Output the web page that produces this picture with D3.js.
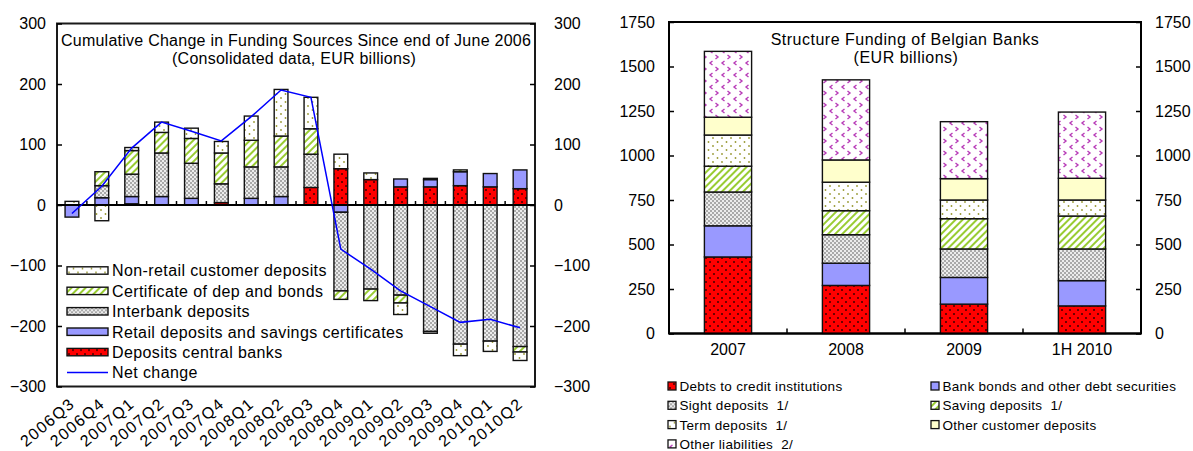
<!DOCTYPE html>
<html>
<head>
<meta charset="utf-8">
<script src="https://cdn.jsdelivr.net/npm/d3@7/dist/d3.min.js"></script>
<style>
  html, body { margin: 0; padding: 0; background: #fff; }
  svg { display: block; font-family: "Liberation Sans", Arial, sans-serif; }
</style>
</head>
<body>
<svg id="chart" width="1193" height="451"></svg>
<script>
// ---------- Left panel: cumulative change in funding sources ----------
const quarters = ["2006Q3","2006Q4","2007Q1","2007Q2","2007Q3","2007Q4","2008Q1","2008Q2",
                  "2008Q3","2008Q4","2009Q1","2009Q2","2009Q3","2009Q4","2010Q1","2010Q2"];
const depositsCentralBanks = [0, 0, 2, 0, 0, 4, 0, 0, 29, 60, 42, 30, 30, 32, 30, 27];
const retailDeposits       = [-20, 12, 12, 14, 11, 0, 11, 14, 0, -12, 0, 13, 12, 23, 22, 31];
const interbankDeposits    = [0, 20, 37, 72, 58, 31, 52, 49, 55, -130, -139, -149, -209, -230, -225, -234];
const certificatesBonds    = [0, 23, 39, 34, 41, 51, 44, 51, 42, -14, -19, -13, 2, 3, 0, -9];
const nonRetailDeposits    = [6, -26, 5, 17, 17, 19, 40, 77, 52, 24, 11, -19, -3, -19, -17, -14];
const netChange            = [-14, 31, 94, 137, 122, 106, 146, 190, 178, -73, -106, -142, -168, -194, -189, -203];
const leftTicks = [-300, -200, -100, 0, 100, 200, 300];

// ---------- Right panel: funding structure of Belgian banks ----------
const periods = ["2007", "2008", "2009", "1H 2010"];
const debtsCreditInst   = [430, 270, 165, 155];
const bankBonds         = [175, 125, 150, 142];
const sightDeposits     = [190, 160, 160, 178];
const savingDeposits    = [145, 135, 170, 185];
const termDeposits      = [175, 160, 105, 90];
const otherCustDeposits = [100, 125, 120, 122];
const otherLiabilities  = [370, 450, 320, 372];
const rightTicks = [0, 250, 500, 750, 1000, 1250, 1500, 1750];

const svg = d3.select("#chart");
const defs = svg.append("defs");

// ---------- fill patterns ----------
function pattern(id, w, h, bg, draw, transform) {
  const p = defs.append("pattern").attr("id", id).attr("patternUnits", "userSpaceOnUse")
    .attr("width", w).attr("height", h);
  if (transform) p.attr("patternTransform", transform);
  p.append("rect").attr("width", w).attr("height", h).attr("fill", bg);
  draw(p);
}
pattern("pRed", 8, 8, "#ff0000", p => {
  [[2, 2], [6, 6]].forEach(([x, y]) => p.append("rect").attr("x", x - 0.75).attr("y", y - 0.75)
    .attr("width", 1.5).attr("height", 1.5).attr("fill", "#000"));
});
pattern("pGray", 4, 4, "#ececec", p => {
  [[1, 1], [3, 3]].forEach(([x, y]) => p.append("rect").attr("x", x - 0.6).attr("y", y - 0.6)
    .attr("width", 1.2).attr("height", 1.2).attr("fill", "#333"));
});
pattern("pGreen", 5, 5, "#ffffff", p => {
  p.append("rect").attr("x", 0).attr("y", 0).attr("width", 2).attr("height", 5).attr("fill", "#99cc33");
}, "rotate(45)");
pattern("pOlive", 9, 8, "#ffffff", p => {
  [[2, 2], [6.5, 6]].forEach(([x, y]) => p.append("circle").attr("cx", x).attr("cy", y)
    .attr("r", 0.9).attr("fill", "#999933"));
});
pattern("pPurple", 12, 12, "#ffffff", p => {
  p.append("path").attr("d", "M4.5,1 L2,3 L4.5,5").attr("fill", "none")
    .attr("stroke", "#b83cb8").attr("stroke-width", 1.4);
  p.append("path").attr("d", "M7.5,7 L10,9 L7.5,11").attr("fill", "none")
    .attr("stroke", "#b83cb8").attr("stroke-width", 1.4);
});

const FONT = 16;

// ================= LEFT PANEL =================
const L = { x0: 57, x1: 535, y0: 23.5, y1: 386.5 };
const lx = d3.scaleBand().domain(quarters).range([L.x0, L.x1]).paddingInner(0.54).paddingOuter(0.27);
const ly = d3.scaleLinear().domain([-300, 300]).range([L.y1, L.y0]);

const leftSeries = [
  { key: "central",   name: "Deposits central banks", values: depositsCentralBanks, fill: "url(#pRed)" },
  { key: "retail",    name: "Retail deposits and savings certificates", values: retailDeposits, fill: "#9999ff" },
  { key: "interbank", name: "Interbank deposits", values: interbankDeposits, fill: "url(#pGray)" },
  { key: "cert",      name: "Certificate of dep and bonds", values: certificatesBonds, fill: "url(#pGreen)" },
  { key: "nonretail", name: "Non-retail customer deposits", values: nonRetailDeposits, fill: "url(#pOlive)" }
];
const leftRows = quarters.map((q, i) => {
  const r = { q };
  leftSeries.forEach(s => r[s.key] = s.values[i]);
  return r;
});
const leftStack = d3.stack().keys(leftSeries.map(s => s.key)).offset(d3.stackOffsetDiverging)(leftRows);

const gL = svg.append("g");
// plot frame
gL.append("rect").attr("x", L.x0).attr("y", L.y0).attr("width", L.x1 - L.x0).attr("height", L.y1 - L.y0)
  .attr("fill", "none").attr("stroke", "#1a1a1a").attr("stroke-width", 2);

// bars
leftStack.forEach((layer, li) => {
  gL.append("g").selectAll("rect").data(layer.filter(d => d[1] !== d[0])).join("rect")
    .attr("x", d => lx(d.data.q))
    .attr("width", lx.bandwidth())
    .attr("y", d => ly(Math.max(d[0], d[1])))
    .attr("height", d => Math.abs(ly(d[0]) - ly(d[1])))
    .attr("fill", leftSeries[li].fill)
    .attr("stroke", "#111").attr("stroke-width", 1.4);
});

// zero line with category ticks
gL.append("line").attr("x1", L.x0).attr("x2", L.x1).attr("y1", ly(0)).attr("y2", ly(0))
  .attr("stroke", "#000").attr("stroke-width", 2);
const step = (L.x1 - L.x0) / quarters.length;
gL.append("g").selectAll("line").data(d3.range(1, quarters.length)).join("line")
  .attr("x1", i => L.x0 + i * step).attr("x2", i => L.x0 + i * step)
  .attr("y1", ly(0)).attr("y2", ly(0) - 4).attr("stroke", "#000").attr("stroke-width", 1.5);

// y axes (left and right), inward ticks
const lAxisL = d3.axisLeft(ly).tickValues(leftTicks).tickSize(-5).tickPadding(11).tickFormat(d3.format("d"));
const lAxisR = d3.axisRight(ly).tickValues(leftTicks).tickSize(-5).tickPadding(19).tickFormat(d3.format("d"));
[[lAxisL, L.x0], [lAxisR, L.x1]].forEach(([ax, x]) => {
  const g = gL.append("g").attr("transform", `translate(${x},0)`).call(ax);
  g.select(".domain").remove();
  g.selectAll(".tick line").attr("stroke", "#000").attr("stroke-width", 1.5);
  g.selectAll(".tick text").attr("font-size", FONT).attr("fill", "#000").attr("font-family", "Liberation Sans, Arial, sans-serif");
});

// net change line
const line = d3.line().x((d, i) => lx(quarters[i]) + lx.bandwidth() / 2).y(d => ly(d));
gL.append("path").datum(netChange).attr("d", line).attr("fill", "none")
  .attr("stroke", "#0000ff").attr("stroke-width", 1.5);

// category labels (slanted)
gL.append("g").selectAll("text").data(quarters).join("text")
  .attr("transform", q => `translate(${lx(q) + lx.bandwidth() / 2 + 4},${L.y1 + 19}) rotate(-40)`)
  .attr("text-anchor", "end").attr("font-size", FONT).attr("letter-spacing", 1.4)
  .attr("fill", "#000").text(q => q);

// title
const tL = gL.append("text").attr("text-anchor", "middle").attr("font-size", FONT).attr("fill", "#000")
  .attr("letter-spacing", 0.25);
tL.append("tspan").attr("x", 296).attr("y", 46).text("Cumulative Change in Funding Sources Since end of June 2006");
tL.append("tspan").attr("x", 294).attr("y", 64).text("(Consolidated data, EUR billions)");

// legend
const legItems = leftSeries.slice().reverse().concat([{ name: "Net change", line: true }]);
const leg = gL.append("g").selectAll("g").data(legItems).join("g")
  .attr("transform", (d, i) => `translate(67,${270.5 + i * 20.4})`);
leg.each(function (d) {
  const g = d3.select(this);
  if (d.line) {
    g.append("line").attr("x1", 0).attr("x2", 41).attr("y1", 0).attr("y2", 0)
      .attr("stroke", "#0000ff").attr("stroke-width", 1.5);
  } else {
    g.append("rect").attr("x", 0).attr("y", -3.7).attr("width", 41).attr("height", 7.4)
      .attr("fill", d.fill).attr("stroke", "#111").attr("stroke-width", 1.4);
  }
  g.append("text").attr("x", 45).attr("y", 5.8).attr("font-size", FONT).attr("fill", "#000")
    .attr("letter-spacing", 0.4).text(d.name);
});

// ================= RIGHT PANEL =================
const R = { x0: 669, x1: 1141, y0: 22, y1: 333.5 };
const rx = d3.scaleBand().domain(periods).range([R.x0, R.x1]).paddingInner(0.6).paddingOuter(0.3);
const ry = d3.scaleLinear().domain([0, 1750]).range([R.y1, R.y0]);

const rightSeries = [
  { key: "debts",  name: "Debts to credit institutions", values: debtsCreditInst, fill: "url(#pRed)" },
  { key: "bonds",  name: "Bank bonds and other debt securities", values: bankBonds, fill: "#9999ff" },
  { key: "sight",  name: "Sight deposits  1/", values: sightDeposits, fill: "url(#pGray)" },
  { key: "saving", name: "Saving deposits  1/", values: savingDeposits, fill: "url(#pGreen)" },
  { key: "term",   name: "Term deposits  1/", values: termDeposits, fill: "url(#pOlive)" },
  { key: "othcus", name: "Other customer deposits", values: otherCustDeposits, fill: "#ffffcc" },
  { key: "othlia", name: "Other liabilities  2/", values: otherLiabilities, fill: "url(#pPurple)" }
];
const rightRows = periods.map((p, i) => {
  const r = { p };
  rightSeries.forEach(s => r[s.key] = s.values[i]);
  return r;
});
const rightStack = d3.stack().keys(rightSeries.map(s => s.key))(rightRows);

const gR = svg.append("g");
gR.append("rect").attr("x", R.x0).attr("y", R.y0).attr("width", R.x1 - R.x0).attr("height", R.y1 - R.y0)
  .attr("fill", "none").attr("stroke", "#000").attr("stroke-width", 2);

rightStack.forEach((layer, li) => {
  gR.append("g").selectAll("rect").data(layer).join("rect")
    .attr("x", d => rx(d.data.p))
    .attr("width", rx.bandwidth())
    .attr("y", d => ry(d[1]))
    .attr("height", d => ry(d[0]) - ry(d[1]))
    .attr("fill", rightSeries[li].fill)
    .attr("stroke", "#111").attr("stroke-width", 1.4);
});

const stepR = (R.x1 - R.x0) / periods.length;
gR.append("line").attr("x1", R.x0).attr("x2", R.x1).attr("y1", R.y1).attr("y2", R.y1)
  .attr("stroke", "#000").attr("stroke-width", 2.2);
gR.append("g").selectAll("line").data(d3.range(1, periods.length)).join("line")
  .attr("x1", i => R.x0 + i * stepR).attr("x2", i => R.x0 + i * stepR)
  .attr("y1", R.y1).attr("y2", R.y1 - 5).attr("stroke", "#000").attr("stroke-width", 1.5);

const rAxisL = d3.axisLeft(ry).tickValues(rightTicks).tickSize(-5).tickPadding(14).tickFormat(d3.format("d"));
const rAxisR = d3.axisRight(ry).tickValues(rightTicks).tickSize(-5).tickPadding(14).tickFormat(d3.format("d"));
[[rAxisL, R.x0], [rAxisR, R.x1]].forEach(([ax, x]) => {
  const g = gR.append("g").attr("transform", `translate(${x},0)`).call(ax);
  g.select(".domain").remove();
  g.selectAll(".tick line").attr("stroke", "#000").attr("stroke-width", 1.5);
  g.selectAll(".tick text").attr("font-size", FONT).attr("fill", "#000").attr("font-family", "Liberation Sans, Arial, sans-serif");
});

gR.append("g").selectAll("text").data(periods).join("text")
  .attr("x", p => rx(p) + rx.bandwidth() / 2).attr("y", 355)
  .attr("text-anchor", "middle").attr("font-size", FONT).attr("fill", "#000").text(p => p);

const tR = gR.append("text").attr("text-anchor", "middle").attr("font-size", FONT).attr("fill", "#000")
  .attr("letter-spacing", 0.5);
tR.append("tspan").attr("x", 905).attr("y", 45).text("Structure Funding of Belgian Banks");
tR.append("tspan").attr("x", 906).attr("y", 63).text("(EUR billions)");

// legend in two columns
const rLeg = gR.append("g").selectAll("g").data(rightSeries).join("g")
  .attr("transform", (d, i) => `translate(${i % 2 === 0 ? 668 : 931},${386 + Math.floor(i / 2) * 19.3})`);
rLeg.append("rect").attr("x", 0).attr("y", -4).attr("width", 8).attr("height", 8)
  .attr("fill", d => d.fill).attr("stroke", "#111").attr("stroke-width", 1.3);
rLeg.append("text").attr("x", 11.5).attr("y", 5).attr("font-size", 13.5).attr("fill", "#000")
  .attr("letter-spacing", 0.3).attr("xml:space", "preserve").style("white-space", "pre").text(d => d.name);
</script>
</body>
</html>
